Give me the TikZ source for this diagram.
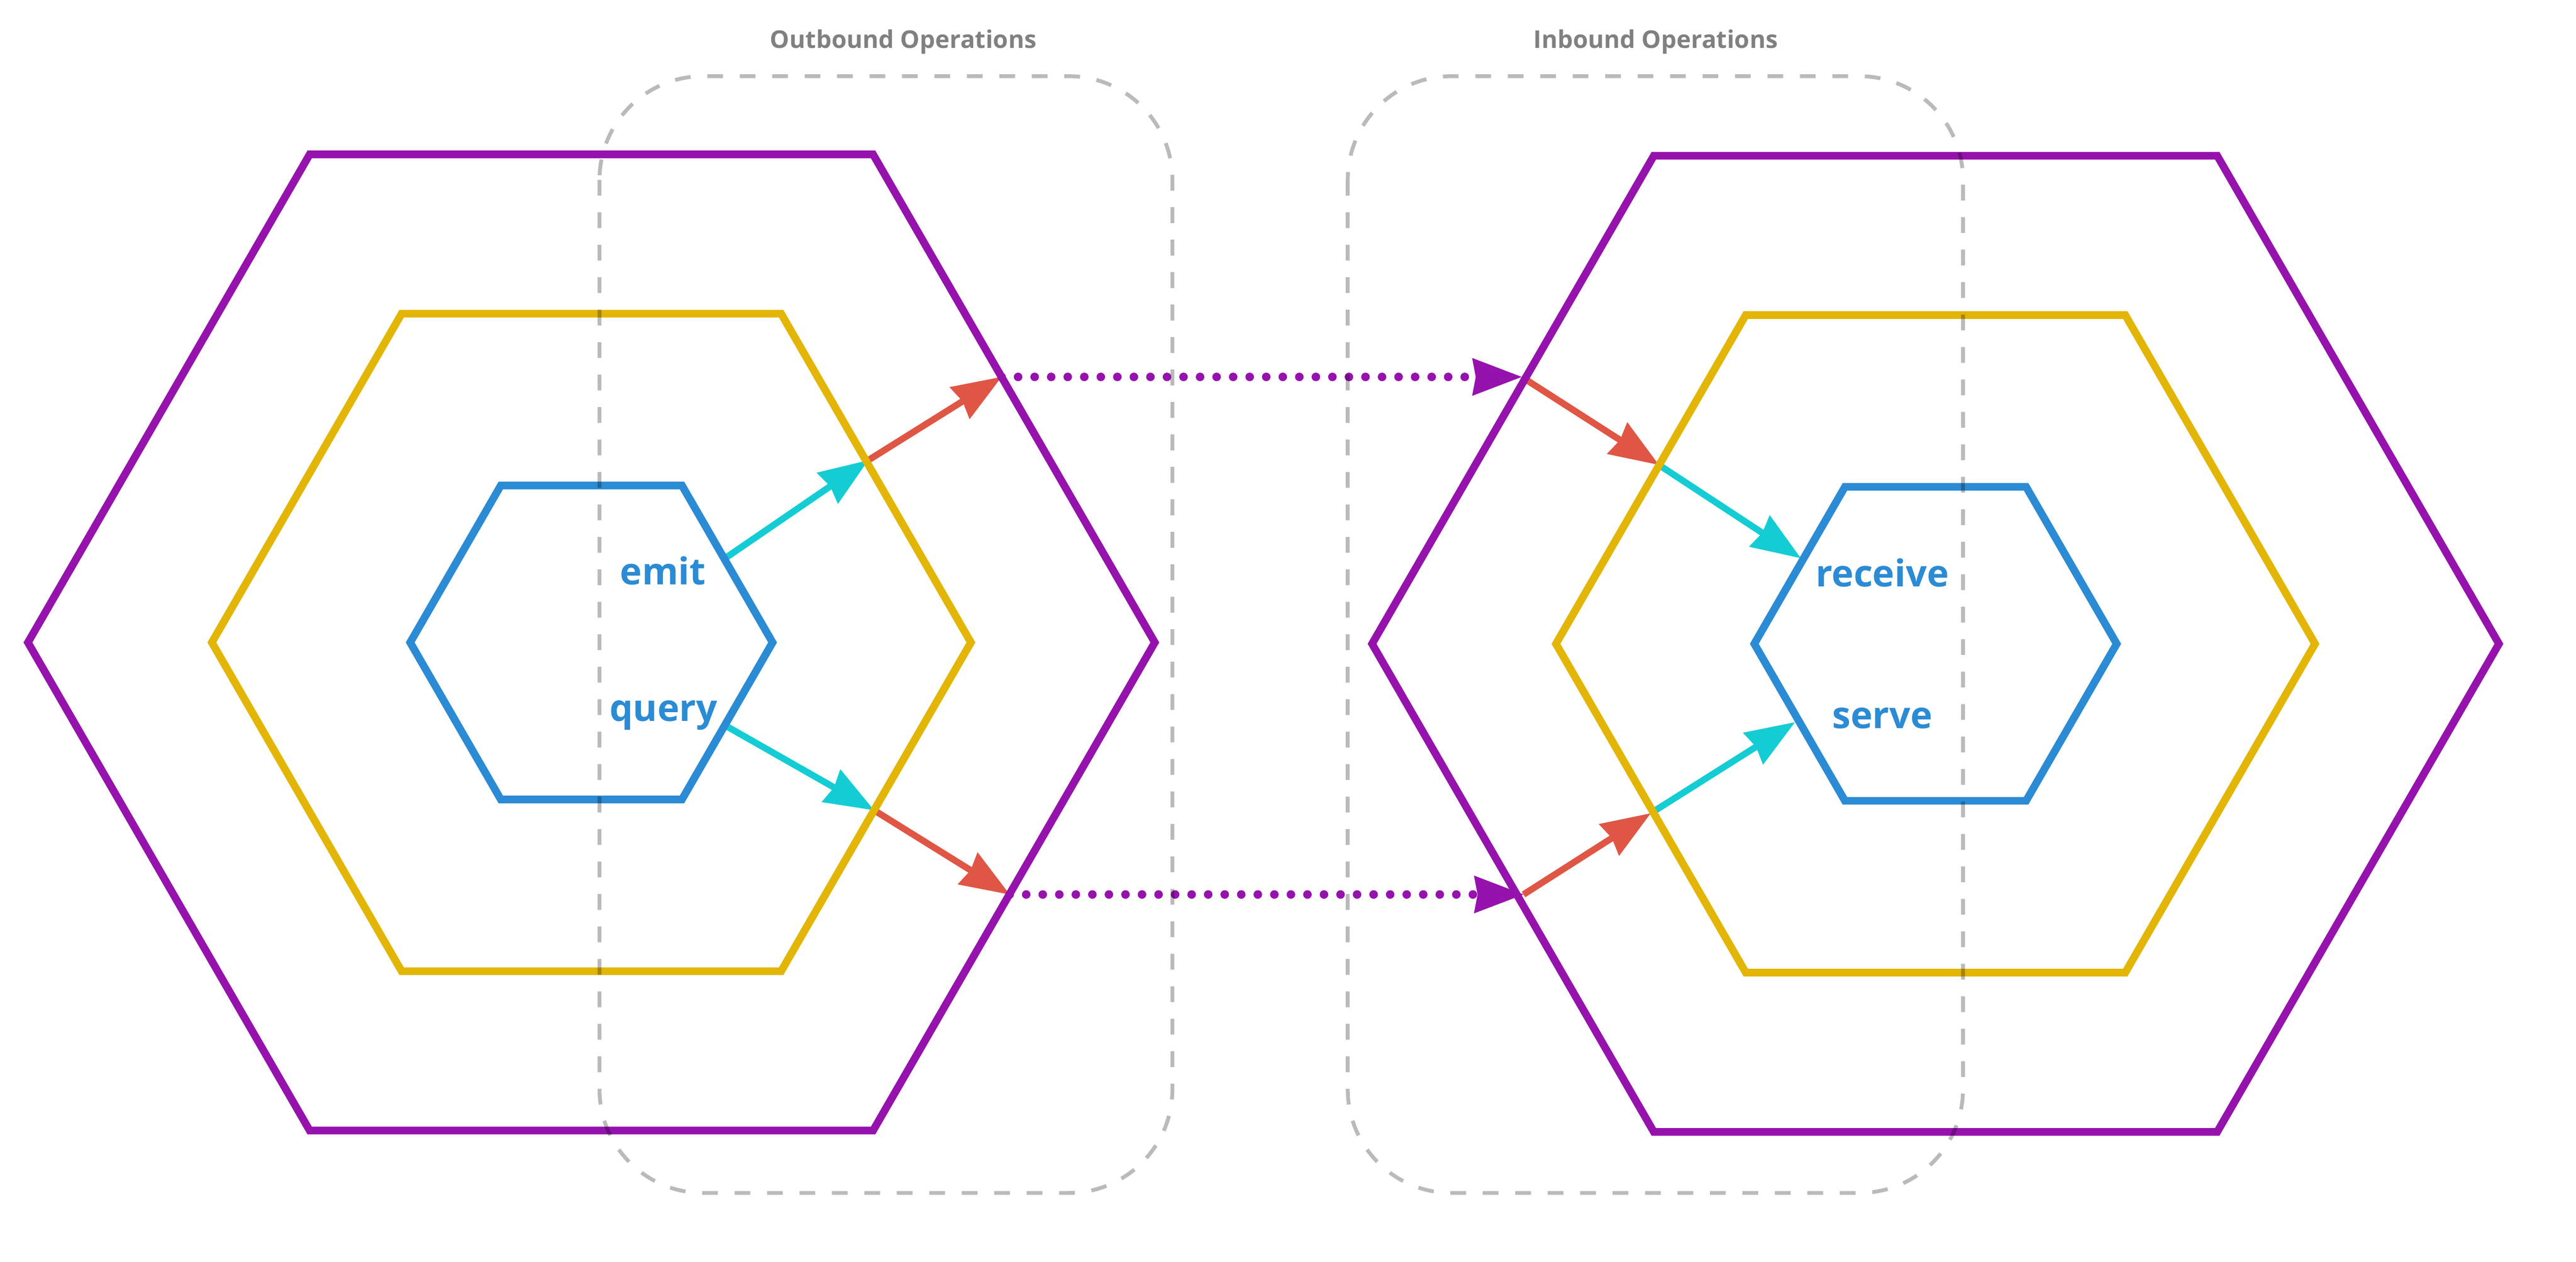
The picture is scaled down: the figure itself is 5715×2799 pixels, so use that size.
\documentclass[tikz,border=0pt]{standalone}
\usepackage{fontspec}
\setmainfont{Open Sans}
\usetikzlibrary{arrows.meta}

\definecolor{hexpurple}{HTML}{9612AD}
\definecolor{hexyellow}{HTML}{E3B505}
\definecolor{hexblue}{HTML}{2B8BD4}
\definecolor{portcyan}{HTML}{14CDD4}
\definecolor{adapterred}{HTML}{E05645}
\definecolor{titlegray}{HTML}{808080}

\tikzset{
  hexline/.style={line width=1.7mm},
  flow/.style={line width=1.45mm, -{Stealth[length=11mm, width=8.4mm, inset=0.8mm, line width=0pt]}},
  wire/.style={hexpurple, line width=1.9mm, line cap=round, dash pattern=on 0pt off 3.67mm,
    -{Stealth[length=11mm, width=8.4mm, inset=0.8mm, line width=0pt]}},
  opsbox/.style={draw=black, draw opacity=0.27, line width=0.85mm, dash pattern=on 3.5mm off 3.7mm, rounded corners=23mm},
  optitle/.style={titlegray, font=\bfseries\fontsize{15.4}{18}\selectfont, anchor=base},
  oplabel/.style={hexblue, font=\bfseries\fontsize{23.4}{28}\selectfont, anchor=base},
}

\begin{document}
\begin{tikzpicture}[x=0.1mm, y=-0.1mm]
    \useasboundingbox (0,0) rectangle (5715,2799);

    % ports and adapters
    \coordinate (emitout) at (1612,1236);
    \coordinate (emitport) at (1926,1021);
    \coordinate (emitedge) at (2222,836);
    \coordinate (recvedge) at (3376,836);
    \coordinate (recvport) at (3680,1031);
    \coordinate (recvin) at (3995,1238);

    \coordinate (queryout) at (1614,1612);
    \coordinate (queryport) at (1939,1797);
    \coordinate (queryedge) at (2240,1984);
    \coordinate (serveedge) at (3380,1984);
    \coordinate (serveport) at (3662,1804);
    \coordinate (servein) at (3982,1602);

    \draw[flow, portcyan] (emitout) -- (emitport);
    \draw[flow, adapterred] (emitport) -- (emitedge);
    \draw[wire] (emitedge) -- (recvedge);
    \draw[flow, adapterred] (recvedge) -- (recvport);
    \draw[flow, portcyan] (recvport) -- (recvin);

    \draw[flow, portcyan] (queryout) -- (queryport);
    \draw[flow, adapterred] (queryport) -- (queryedge);
    \draw[wire] (queryedge) -- (serveedge);
    \draw[flow, adapterred] (serveedge) -- (serveport);
    \draw[flow, portcyan] (serveport) -- (servein);

    % hexagons
    \foreach \cx/\cy in {1312/1425, 4294/1428} {
        \foreach \r/\col in {1250/hexpurple, 842/hexyellow, 402/hexblue}
            \draw[hexline, \col] (\cx,\cy) +(0:\r) -- +(60:\r) -- +(120:\r) -- +(180:\r) -- +(240:\r) -- +(300:\r) -- cycle;
    }

    \node[oplabel] (emit) at (1471,1297) {emit};
    \node[oplabel] (query) at (1472,1600) {query};
    \node[oplabel] (receive) at (4176,1301) {receive};
    \node[oplabel] (serve) at (4176,1616) {serve};

    % operation groups
    \draw[opsbox] (1330,169) rectangle (2601,2646);
    \draw[opsbox] (2990,169) rectangle (4355,2646);
    \node[optitle] (outbound) at (2004,107) {Outbound Operations};
    \node[optitle] (inbound) at (3673,107) {Inbound Operations};
\end{tikzpicture}
\end{document}
